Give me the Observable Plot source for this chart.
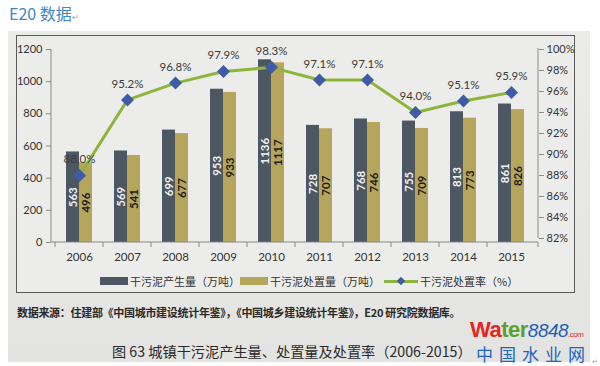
<!DOCTYPE html>
<html><head><meta charset="utf-8">
<script src="https://cdn.jsdelivr.net/npm/d3@7"></script>
<script src="https://cdn.jsdelivr.net/npm/@observablehq/plot@0.6"></script>
<style>
body{margin:0;width:600px;height:366px;position:relative;overflow:hidden;background:#fff;font-family:"Noto Sans CJK SC","Noto Sans",sans-serif}
.abs{position:absolute;white-space:nowrap}
</style></head>
<body>
<div class="abs" style="left:9px;top:1px;font-size:16px;color:#3b87c9">E20 数据<span style="font-size:8px;color:#999">↵</span></div>
<div class="abs" style="left:8px;top:31px;width:582px;height:331px;background:linear-gradient(180deg,#ebebea,#e3e3e1)"></div>
<div class="abs" style="left:16px;top:35px;width:557px;height:256px;border:1.5px solid #5a5a5a;background:#ececeb"></div>
<div id="chart" class="abs" style="left:0;top:0"></div>
<div id="legend"></div>
<div class="abs" style="left:17px;top:304px;font-size:11px;font-weight:bold;color:#2a2a2a;letter-spacing:-0.3px">数据来源：住建部《中国城市建设统计年鉴》，《中国城乡建设统计年鉴》，E20 研究院数据库。</div>
<div class="abs" style="left:112px;top:341px;font-size:14.2px;color:#2a2a2a">图 63 城镇干污泥产生量、处置量及处置率（2006-2015）</div>
<div class="abs" style="left:470px;top:317px;font-family:'Liberation Sans',sans-serif;font-weight:bold;font-size:22px;letter-spacing:-0.5px"><span style="color:#e3261f">Wa</span><span style="color:#58a12f">ter</span><span style="color:#1f5fb5;font-style:italic;font-weight:normal;font-size:19px">8848</span><span style="color:#e3261f;font-size:8px;font-weight:normal">.com</span></div>
<div class="abs" style="left:476px;top:341px;font-size:17px;color:#1f63c4">中<span style="margin-left:6px">国</span><span style="margin-left:6px">水</span><span style="margin-left:6px">业</span><span style="margin-left:6px">网</span></div>
<div class="abs" style="left:592px;top:356px;font-size:7px;color:#999">↵</div>
<script>
const years = ["2006","2007","2008","2009","2010","2011","2012","2013","2014","2015"];
const produced = [563,569,699,953,1136,728,768,755,813,861];
const disposed = [496,541,677,933,1117,707,746,709,773,826];
const rate = [88.0,95.2,96.8,97.9,98.3,97.1,97.1,94.0,95.1,95.9];
const leftTicks = [0,200,400,600,800,1000,1200];
const rightTicks = [82,84,86,88,90,92,94,96,98,100];
const seriesNames = ["干污泥产生量（万吨）","干污泥处置量（万吨）","干污泥处置率（%）"];
const colors = {dark:"#4c5762", gold:"#b6a65c", green:"#8db53c", blue:"#3e5ba6"};

const data = years.map((y,i)=>({year:y, produced:produced[i], disposed:disposed[i], rate:rate[i]}));
// map right-axis percent onto the left (primary) scale
const conv = d3.scaleLinear().domain([82,100]).range([25,1200]);

const frameLines = (index, scales, values, dim) => {
  const g = d3.create("svg:g").attr("stroke","#8a8a8a").attr("fill","none");
  const x0 = dim.marginLeft, x1 = dim.width - dim.marginRight;
  const yb = dim.height - dim.marginBottom, yt = dim.marginTop;
  g.append("line").attr("x1",x0).attr("x2",x0).attr("y1",yt).attr("y2",yb);
  g.append("line").attr("x1",x1).attr("x2",x1).attr("y1",yt - 1).attr("y2",yb - 4);
  g.append("line").attr("x1",x0).attr("x2",x1).attr("y1",yb).attr("y2",yb);
  const step = scales.scales.x.step;
  years.forEach((y,i)=>{
    const xs = scales.x(y) - (step - scales.scales.x.bandwidth)/2;
    g.append("line").attr("x1",xs).attr("x2",xs).attr("y1",yb).attr("y2",yb+5);
  });
  g.append("line").attr("x1",x1).attr("x2",x1).attr("y1",yb).attr("y2",yb+5);
  return g.node();
};

const chart = Plot.plot({
  width: 600, height: 270,
  marginLeft: 51, marginRight: 62, marginTop: 49, marginBottom: 28,
  style: {background: "transparent", fontFamily: "Lato, 'Noto Sans', sans-serif", fontSize: "11px", color: "#333"},
  x: {domain: years, paddingInner: 0.466, paddingOuter: 0.233, axis: null},
  y: {domain: [0,1200], axis: null},
  marks: [
    Plot.barY(data, {x: "year", y: "produced", fill: colors.dark, insetRight: 13}),
    Plot.barY(data, {x: "year", y: "disposed", fill: colors.gold, insetLeft: 13}),
    Plot.text(data, {x: "year", y: d => d.produced/2, text: d => String(d.produced), rotate: -90, dx: -6.5, fill: "#f2f2f2", fontSize: 11.5, fontWeight: "bold"}),
    Plot.text(data, {x: "year", y: d => d.disposed/2, text: d => String(d.disposed), rotate: -90, dx: 6.5, fill: "#1c1c1c", fontSize: 11.5, fontWeight: "bold"}),
    frameLines,
    Plot.axisY({anchor: "left", ticks: leftTicks, tickSize: 5, tickPadding: 4, stroke: "#8a8a8a", fontSize: 11, label: null,
      tickFormat: v => String(v)}),
    Plot.axisY({anchor: "right", ticks: rightTicks.map(conv), tickSize: 5, tickPadding: 3, stroke: "#8a8a8a", fontSize: 11, label: null,
      tickFormat: v => Math.round(conv.invert(v)) + "%"}),
    Plot.axisX({ticks: years, tickSize: 0, tickPadding: 10, fontSize: 11.5, label: null}),
    Plot.line(data, {x: "year", y: d => conv(d.rate), stroke: colors.green, strokeWidth: 3}),
    Plot.dot(data, {x: "year", y: d => conv(d.rate), symbol: "square", rotate: 45, r: 5.2, fill: colors.blue, stroke: "none"}),
    Plot.text(data, {x: "year", y: d => conv(d.rate), text: d => d.rate.toFixed(1) + "%", dy: -16, fill: "#3a3a3a", fontSize: 11.5})
  ]
});
document.getElementById("chart").appendChild(chart);

// legend (HTML)
const leg = document.getElementById("legend");
const items = [
  {x: 100, name: seriesNames[0], kind: "bar", color: colors.dark},
  {x: 240, name: seriesNames[1], kind: "bar", color: colors.gold},
  {x: 384, name: seriesNames[2], kind: "line", color: colors.green}
];
items.forEach(it => {
  const d = document.createElement("div");
  d.className = "abs";
  d.style.left = it.x + "px"; d.style.top = "273px";
  d.style.fontSize = "11px"; d.style.color = "#333";
  d.style.display = "flex"; d.style.alignItems = "center";
  const sw = it.kind === "bar"
    ? `<span style="display:inline-block;width:28px;height:8px;background:${it.color};margin-right:2px"></span>`
    : `<span style="position:relative;display:inline-block;width:34px;height:12px;margin-right:2px"><span style="position:absolute;left:0;top:5px;width:34px;height:3px;background:${it.color}"></span><span style="position:absolute;left:14px;top:3px;width:6px;height:6px;background:${colors.blue};transform:rotate(45deg)"></span></span>`;
  d.innerHTML = sw + `<span>${it.name}</span>`;
  leg.appendChild(d);
});
</script>
</body></html>
